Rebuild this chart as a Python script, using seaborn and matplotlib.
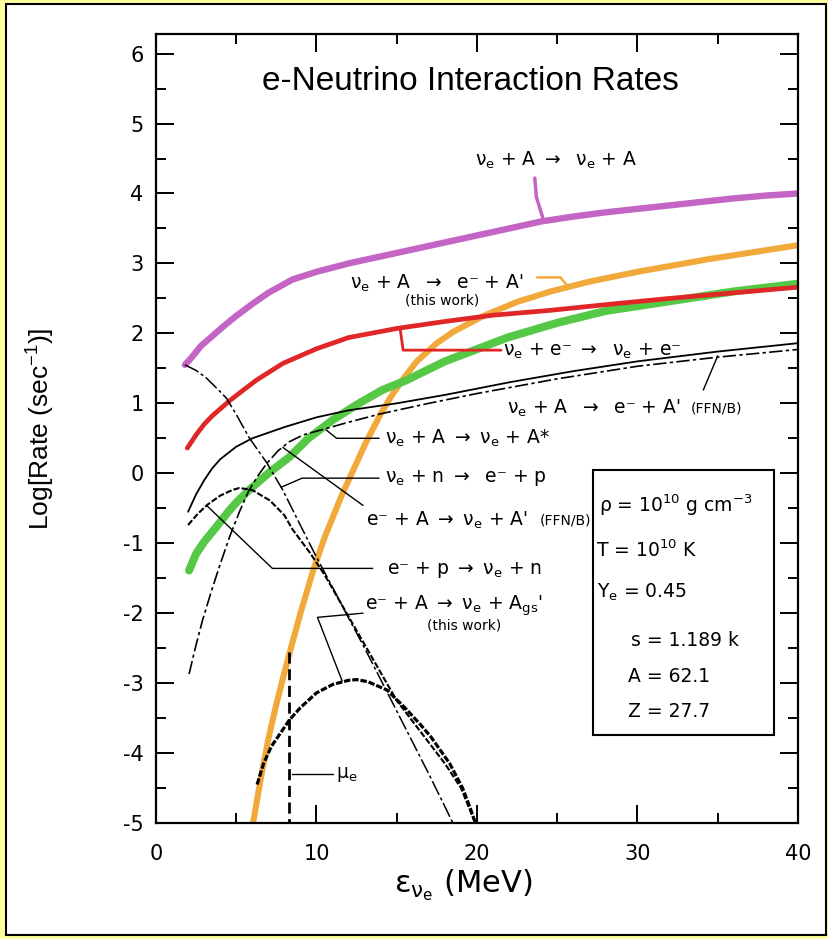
import matplotlib
matplotlib.use("Agg")
import matplotlib.pyplot as plt
from matplotlib.patches import Rectangle
from matplotlib.ticker import MultipleLocator
import seaborn as sns

# ---------------- data ----------------
nuA_el_x = [1.8, 2.2, 2.8, 3.5, 4.2, 5, 6, 7, 8.5, 10, 12, 14, 16, 18, 20, 22, 24, 26, 28, 30, 32, 34, 36, 38, 40]
nuA_el_y = [1.55, 1.65, 1.82, 1.96, 2.1, 2.25, 2.42, 2.58, 2.77, 2.88, 3.0, 3.1, 3.2, 3.3, 3.4, 3.5, 3.6, 3.67, 3.73, 3.78, 3.83, 3.88, 3.93, 3.97, 4.0]

nue_e_x = [1.95, 2.5, 3, 3.5, 4.6, 5.5, 6.25, 7.9, 10, 12, 15, 18, 21, 24.6, 28, 32, 36, 40]
nue_e_y = [0.36, 0.55, 0.7, 0.82, 1.04, 1.2, 1.33, 1.57, 1.78, 1.94, 2.07, 2.17, 2.26, 2.33, 2.41, 2.5, 2.58, 2.66]

nuA_cc_x = [6.05, 6.5, 7, 7.5, 8, 8.5, 9, 9.75, 10.5, 11.6, 12.5, 13.1, 14, 14.6, 15.4, 16.25, 17.5, 18.5, 20.4, 22.5, 24.6, 27, 30, 34.4, 40]
nuA_cc_y = [-5, -4.4, -3.8, -3.3, -2.85, -2.42, -2.0, -1.42, -0.92, -0.3, 0.15, 0.45, 0.85, 1.08, 1.35, 1.6, 1.86, 2.02, 2.25, 2.45, 2.6, 2.74, 2.88, 3.06, 3.26]

green_x = [2.06, 2.5, 3, 3.75, 4.5, 5, 5.8, 7, 8.3, 9.5, 11, 12.5, 14.1, 15.6, 18, 21.9, 25, 28, 32.3, 36, 40]
green_y = [-1.39, -1.15, -0.98, -0.77, -0.55, -0.42, -0.24, 0.0, 0.23, 0.5, 0.76, 0.98, 1.19, 1.33, 1.6, 1.94, 2.15, 2.32, 2.47, 2.6, 2.71]

ffnb_cc_x = [2, 2.5, 3, 3.5, 4, 5, 6, 8, 10, 12, 15, 18, 22, 26, 30, 35, 40]
ffnb_cc_y = [-0.55, -0.3, -0.1, 0.07, 0.2, 0.38, 0.5, 0.66, 0.8, 0.9, 1.0, 1.12, 1.3, 1.46, 1.6, 1.74, 1.86]

nuA_inel_x = [2.06, 2.5, 2.9, 3.5, 4, 4.6, 5.2, 5.8, 6.4, 6.9, 7.6, 8.3, 9.2, 10.6, 12, 14, 17, 20, 25, 30, 35, 40]
nuA_inel_y = [-2.87, -2.45, -2.1, -1.65, -1.3, -0.9, -0.55, -0.24, -0.02, 0.14, 0.32, 0.45, 0.55, 0.64, 0.73, 0.85, 1.0, 1.14, 1.35, 1.53, 1.66, 1.77]

desc_x = [1.8, 2.5, 3.1, 3.9, 4.4, 5.1, 5.8, 6.9, 7.9, 8.9, 10, 11, 12, 13, 14, 15, 16, 17, 18.5]
desc_y = [1.55, 1.47, 1.37, 1.19, 1.07, 0.8, 0.51, 0.15, -0.24, -0.7, -1.2, -1.63, -2.07, -2.5, -2.95, -3.4, -3.85, -4.3, -5.0]

ep_x = [2.0, 2.6, 3.2, 4.0, 4.75, 5.2, 6.0, 7.1, 8.0, 8.5, 9.6, 10.5, 12, 13.5, 15, 16, 17, 18, 19, 19.8]
ep_y = [-0.74, -0.58, -0.45, -0.32, -0.24, -0.21, -0.24, -0.39, -0.6, -0.8, -1.14, -1.45, -2.05, -2.65, -3.25, -3.55, -3.85, -4.15, -4.5, -4.95]

gs_x = [6.3, 6.7, 7.2, 7.8, 8.3, 9, 10, 11, 12, 12.5, 13.2, 14.4, 15.5, 16.5, 17.1, 18.3, 19.1, 19.6, 19.9]
gs_y = [-4.45, -4.15, -3.9, -3.7, -3.53, -3.35, -3.14, -3.02, -2.96, -2.95, -2.98, -3.1, -3.35, -3.6, -3.76, -4.15, -4.5, -4.8, -5.0]

mue_x = [8.3, 8.3]
mue_y = [-2.55, -5.0]

# pointer (leader) lines
ptr_mag = ([23.6, 23.7, 24.1], [4.22, 3.95, 3.65])
ptr_orange = ([23.75, 25.2, 25.7], [2.8, 2.8, 2.66])
ptr_red = ([15.2, 15.4, 21.5], [2.08, 1.76, 1.76])
ptr_ffnb = ([34.1, 35.0], [1.19, 1.68])
ptr_astar = ([13.9, 11.25, 10.6], [0.5, 0.5, 0.62])
ptr_nun = ([13.9, 9.1, 7.8], [-0.07, -0.07, -0.2])
ptr_eaffnb = ([12.9, 7.9], [-0.46, 0.37])
ptr_ep = ([13.5, 7.25, 3.2], [-1.36, -1.36, -0.47])
ptr_ags = ([12.9, 10.06, 11.6], [-2.0, -2.06, -2.97])
ptr_mue = ([8.5, 11.0], [-4.3, -4.3])

x_ticks = [0, 10, 20, 30, 40]
y_ticks = [-5, -4, -3, -2, -1, 0, 1, 2, 3, 4, 5, 6]

# ---------------- style ----------------
sns.set_style("ticks")
plt.rcParams['font.family'] = ['DejaVu Sans']
plt.rcParams['mathtext.fontset'] = 'dejavusans'
plt.rcParams['mathtext.default'] = 'regular'
plt.rcParams['axes.unicode_minus'] = False
for k in ('text.color', 'axes.labelcolor', 'xtick.color', 'ytick.color', 'axes.edgecolor'):
    plt.rcParams[k] = 'black'

fig = plt.figure(figsize=(8.29, 9.39), dpi=100)
fig.patch.set_facecolor('#FFFFA0')
fig.patches.append(Rectangle((6 / 829, 4 / 939), (826 - 6) / 829, (935 - 4) / 939,
                             transform=fig.transFigure, facecolor='white',
                             edgecolor='black', lw=1.5, zorder=-5))
ax = fig.add_axes([156 / 829, (939 - 823) / 939, (798 - 156) / 829, (823 - 34) / 939])
ax.set_zorder(2)
ax.set_facecolor('white')

def line(x, y, color, lw, ls='-', z=2):
    sns.lineplot(x=x, y=y, ax=ax, color=color, linewidth=lw, linestyle=ls,
                 estimator=None, sort=False, legend=False, zorder=z)

# coloured curves
line(nuA_el_x, nuA_el_y, '#C464C4', 4.6)
line(nuA_cc_x, nuA_cc_y, '#F2A93B', 4.4)
line(green_x, green_y, '#55C845', 5.8)
line(nue_e_x, nue_e_y, '#E02626', 3.4)

# black curves
line(ffnb_cc_x, ffnb_cc_y, 'black', 1.3, '-', 3)
line(nuA_inel_x, nuA_inel_y, 'black', 1.2, (0, (8, 2, 2, 2)), 3)
line(desc_x, desc_y, 'black', 1.1, (0, (10, 2, 2, 2)), 3)
line(ep_x, ep_y, 'black', 1.5, (0, (3, 1)), 3)
line(gs_x, gs_y, 'black', 2.3, (0, (2, 0.6)), 3)
line(mue_x, mue_y, 'black', 2.0, (0, (4, 2)), 3)

# leader lines
line(*ptr_mag, '#C464C4', 2.5)
line(*ptr_orange, '#F2A93B', 1.8)
line(*ptr_red, '#E02626', 2.0)
for p in (ptr_ffnb, ptr_astar, ptr_nun, ptr_eaffnb, ptr_ep, ptr_ags, ptr_mue):
    line(*p, 'black', 1.0, '-', 3)

# labels
fs = 13.5
sfs = 10
ax.text(19.9, 4.47, r'$\nu_e$ + A $\rightarrow$  $\nu_e$ + A', fontsize=fs, va='center')
ax.text(12.1, 2.72, "$\\nu_e$ + A  $\\rightarrow$  e\u207b + A'", fontsize=fs, va='center')
ax.text(17.8, 2.47, '(this work)', fontsize=sfs, va='center', ha='center')
ax.text(21.6, 1.74, '$\\nu_e$ + e\u207b $\\rightarrow$  $\\nu_e$ + e\u207b', fontsize=fs, va='center')
ax.text(21.9, 0.93, "$\\nu_e$ + A  $\\rightarrow$  e\u207b + A'", fontsize=fs, va='center')
ax.text(33.3, 0.93, '(FFN/B)', fontsize=sfs, va='center')
ax.text(14.25, 0.5, r'$\nu_e$ + A $\rightarrow$ $\nu_e$ + A*', fontsize=fs, va='center')
ax.text(14.25, -0.07, '$\\nu_e$ + n $\\rightarrow$  e\u207b + p', fontsize=fs, va='center')
ax.text(13.1, -0.67, "e\u207b + A $\\rightarrow$ $\\nu_e$ + A'", fontsize=fs, va='center')
ax.text(23.9, -0.67, '(FFN/B)', fontsize=sfs, va='center')
ax.text(14.4, -1.39, 'e\u207b + p $\\rightarrow$ $\\nu_e$ + n', fontsize=fs, va='center')
ax.text(13.0, -1.89, "e\u207b + A $\\rightarrow$ $\\nu_e$ + $A_{gs}$'", fontsize=fs, va='center')
ax.text(19.2, -2.17, '(this work)', fontsize=sfs, va='center', ha='center')
ax.text(11.2, -4.3, r'$\mu_e$', fontsize=fs, va='center')

# parameter box
ax.add_patch(Rectangle((27.2, -3.74), 38.5 - 27.2, 0.04 + 3.74, facecolor='white',
                       edgecolor='black', lw=1.5, zorder=4))
bfs = 13.5
ax.text(27.6, -0.46, r'$\rho$ = 10$^{10}$ g cm$^{-3}$', fontsize=bfs, va='center', zorder=5)
ax.text(27.4, -1.1, r'T = 10$^{10}$ K', fontsize=bfs, va='center', zorder=5)
ax.text(27.45, -1.7, r'$Y_e$ = 0.45', fontsize=bfs, va='center', zorder=5)
ax.text(29.6, -2.39, 's = 1.189 k', fontsize=bfs, va='center', zorder=5)
ax.text(29.4, -2.91, 'A = 62.1', fontsize=bfs, va='center', zorder=5)
ax.text(29.4, -3.41, 'Z = 27.7', fontsize=bfs, va='center', zorder=5)

# title inside the axes
ax.text(19.6, 5.6, 'e-Neutrino Interaction Rates', fontsize=24, ha='center', va='center',
        family=['Liberation Sans', 'DejaVu Sans'])

# axes
ax.set_xlim(0, 40)
ax.set_ylim(-5, 6.28)
ax.set_xticks(x_ticks)
ax.set_yticks(y_ticks)
ax.xaxis.set_minor_locator(MultipleLocator(5))
ax.yaxis.set_minor_locator(MultipleLocator(0.5))
ax.tick_params(which='both', direction='in', top=True, right=True, width=1.4, labelsize=15)
ax.tick_params(which='major', length=13)
ax.tick_params(which='minor', length=7)
ax.tick_params(axis='x', which='major', pad=15)
ax.tick_params(axis='y', which='major', pad=9)
for s in ax.spines.values():
    s.set_linewidth(1.6)
    s.set_visible(True)

ax.set_ylabel(r'Log[Rate (sec$^{-1}$)]', fontsize=19, family=['Liberation Sans', 'DejaVu Sans'])
ax.yaxis.set_label_coords(-0.154, 0.5)
ax.set_xlabel(r'$\varepsilon_{\nu_e}$ (MeV)', fontsize=22)
ax.xaxis.set_label_coords(0.478, -0.056)

fig.savefig('out.png', dpi=100, facecolor=fig.get_facecolor())
